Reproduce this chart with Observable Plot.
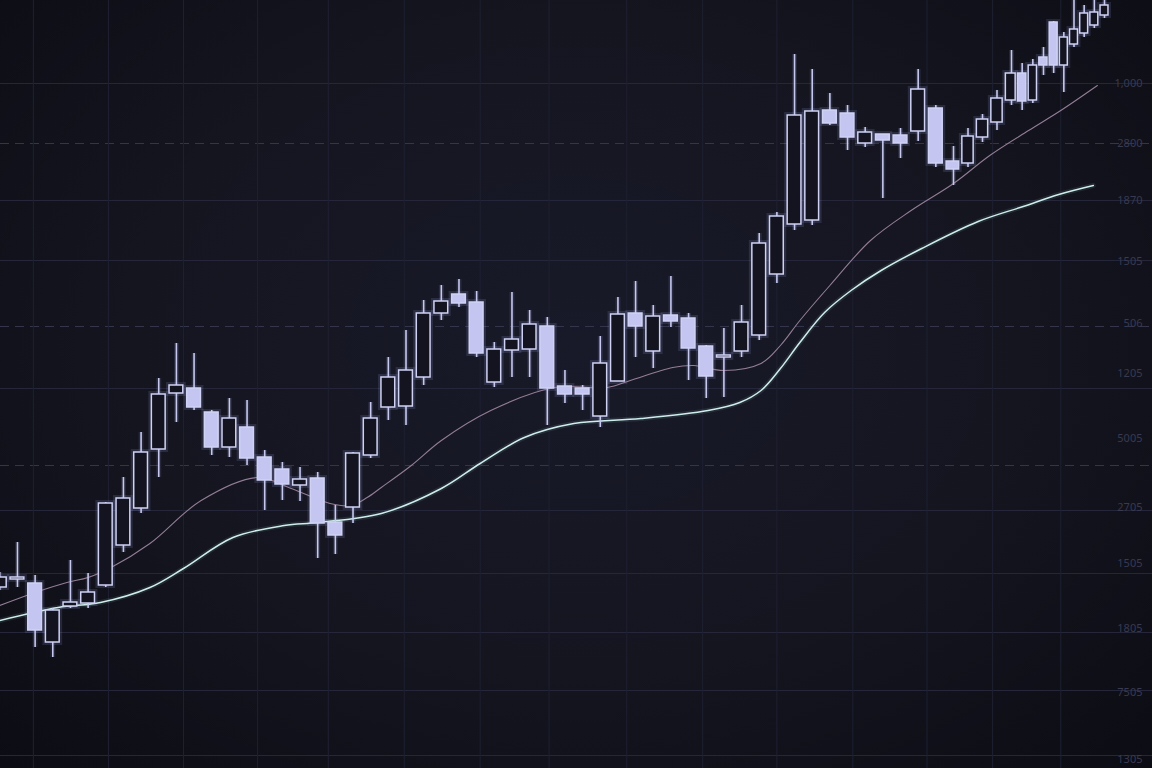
<!DOCTYPE html>
<html>
<head>
<meta charset="utf-8">
<script src="https://cdn.jsdelivr.net/npm/d3@7"></script>
<script src="https://cdn.jsdelivr.net/npm/@observablehq/plot@0.6"></script>
<style>
  html, body { margin: 0; padding: 0; }
  body {
    width: 1152px; height: 768px; overflow: hidden;
    background: radial-gradient(ellipse at 50% 45%, #191a29 0%, #14151f 55%, #0c0c14 100%);
    font-family: "DejaVu Sans", sans-serif;
  }
  #chart svg { display: block; }
</style>
</head>
<body>
<div id="chart"></div>
<script>
// ---- data (price units), one entry per candle, index = position in array ----
const open  = [1213,1221,1217,1158,1194,1197,1215,1255,1292,1351,1407,1412,1388,1353,1373,1343,1331,1315,1322,1278,
               1293,1345,1393,1394,1423,1487,1506,1498,1418,1450,1451,1474,1414,1412,1384,1419,1487,1449,1485,1482,
               1454,1443,1449,1465,1526,1576,1580,1690,1687,1657,1666,1665,1669,1692,1639,1637,1663,1678,1700,1727,
               1700,1743,1778,1735,1756,1767,1775,1785];
const high  = [1228,1258,1225,1192,1240,1227,1298,1323,1368,1422,1457,1447,1390,1402,1400,1350,1338,1333,1328,1295,
               1348,1398,1443,1470,1500,1515,1521,1509,1458,1508,1490,1483,1430,1415,1464,1503,1519,1495,1524,1487,
               1455,1472,1495,1567,1588,1746,1731,1707,1695,1673,1666,1672,1731,1695,1654,1672,1686,1710,1750,1737,
               1741,1753,1779,1768,1804,1795,1806,1808];
const low   = [1210,1213,1153,1143,1192,1192,1213,1248,1287,1323,1378,1390,1345,1343,1335,1290,1300,1299,1242,1246,
               1277,1342,1380,1375,1415,1480,1493,1443,1413,1423,1423,1375,1397,1390,1373,1419,1443,1432,1473,1420,
               1402,1403,1443,1460,1517,1570,1575,1675,1650,1653,1602,1642,1659,1633,1615,1633,1658,1670,1695,1690,
               1697,1725,1727,1708,1753,1763,1772,1782];
const close = [1223,1223,1170,1190,1198,1208,1297,1302,1348,1406,1415,1393,1353,1382,1342,1320,1316,1321,1277,1265,
               1347,1382,1423,1430,1487,1499,1497,1447,1451,1461,1476,1412,1406,1406,1437,1486,1474,1484,1479,1452,
               1424,1445,1478,1557,1584,1685,1689,1677,1663,1668,1660,1657,1711,1637,1631,1664,1681,1702,1727,1699,
               1735,1735,1735,1763,1771,1787,1788,1795];

// moving averages (index, price)
const maFastIdx = [0,2,3.8,5,6.3,8.5,11.4,14.6,16.5,18.7,19.9,20.8,21.6,23.3,25,27.8,31.4,34.4,35.7,38.1,39.3,41,43.1,44.2,45.3,47,49.3,51.6,54,56.5,59.6,62.7,66.3];
const maFast    = [1195,1208,1218,1223,1233,1257,1300,1323,1312,1297,1295,1303,1313,1335,1360,1390,1413,1413,1420,1433,1435,1430,1437,1455,1480,1515,1560,1590,1617,1645,1670,1690,1715];
const maSlowIdx = [0,3.3,5.7,8.5,10.4,13.2,16.1,18,21.6,25,27.2,29.7,32.5,36.3,40.1,41.9,43.1,44.2,45.3,46.7,48.2,49.9,52.2,55.7,59.1,62.5,65.9];
const maSlow    = [1180,1193,1198,1213,1232,1263,1275,1278,1287,1312,1337,1363,1377,1382,1390,1398,1410,1432,1458,1488,1510,1530,1552,1579,1594,1606,1615];

// grid and tick labels
const gridSolid  = [1717,1600,1540,1412,1290,1227,1168,1110,1045];
const gridDashed = [1657,1474,1335];
const gridX      = [1.9,6.15,10.4,14.6,18.6,22.9,27.2,31.1,35.5,39.8,44,48.3,52.5,56.7,62.7];
const tickValues = [1717,1657,1600,1539,1477,1427,1362,1293,1237,1172,1108,1041];
const tickLabels = ["1,000","2800","1870","1505","506","1205","5005","2705","1505","1805","7505","1305"];

// ---- build tables ----
const candles = open.map((o, i) => ({i, open: o, high: high[i], low: low[i], close: close[i]}));
const fastLine = maFastIdx.map((i, k) => ({i, v: maFast[k]}));
const slowLine = maSlowIdx.map((i, k) => ({i, v: maSlow[k]}));
const ticks = tickValues.map((v, k) => ({v, label: tickLabels[k]}));

const W = 0.39;
const bodyX1 = d => d.i - W, bodyX2 = d => d.i + W;
const chart = Plot.plot({
  width: 1152,
  height: 768,
  margin: 0,
  style: {background: "transparent", color: "#3d3f58"},
  x: {type: "linear", domain: [0, 54, 58, 61, 67], range: [-0.7, 953, 1011, 1043, 1104], axis: null},
  y: {type: "linear", domain: [1032, 1800], axis: null},
  marks: [
    Plot.ruleY(gridSolid, {stroke: "#25263a", strokeWidth: 1}),
    Plot.ruleY(gridDashed, {stroke: "#34354a", strokeWidth: 1, strokeDasharray: "9,6"}),
    Plot.ruleX(gridX, {stroke: "#1f2032", strokeWidth: 1}),
    Plot.text(ticks, {y: "v", text: "label", frameAnchor: "right", dx: -10, textAnchor: "end",
      fill: "#383a52", fontSize: 11}),
    // glow halos
    Plot.line(slowLine, {x: "i", y: "v", curve: "catmull-rom", stroke: "#bff5f0", strokeOpacity: 0.09, strokeWidth: 5}),
    Plot.ruleX(candles, {x: "i", y1: "low", y2: "high", stroke: "#aab4ff", strokeOpacity: 0.12, strokeWidth: 5}),
    Plot.rect(candles, {x1: bodyX1, x2: bodyX2, y1: "open", y2: "close", fill: "none",
      stroke: "#aab4ff", strokeOpacity: 0.14, strokeWidth: 6}),
    // moving averages
    Plot.line(fastLine, {x: "i", y: "v", curve: "catmull-rom", stroke: "#937d96", strokeWidth: 1.1}),
    Plot.line(slowLine, {x: "i", y: "v", curve: "catmull-rom", stroke: "#cdeeea", strokeWidth: 1.5}),
    // candles
    Plot.ruleX(candles, {x: "i", y1: "low", y2: "high", stroke: "#c6c8ee", strokeWidth: 1.6}),
    Plot.rect(candles, {
      x1: bodyX1, x2: bodyX2,
      y1: "open", y2: "close",
      fill: d => d.close < d.open ? "#c4c6f1" : "#131420",
      stroke: "#d0d2f4", strokeWidth: 1.5
    })
  ]
});
document.getElementById("chart").appendChild(chart);
</script>
</body>
</html>
